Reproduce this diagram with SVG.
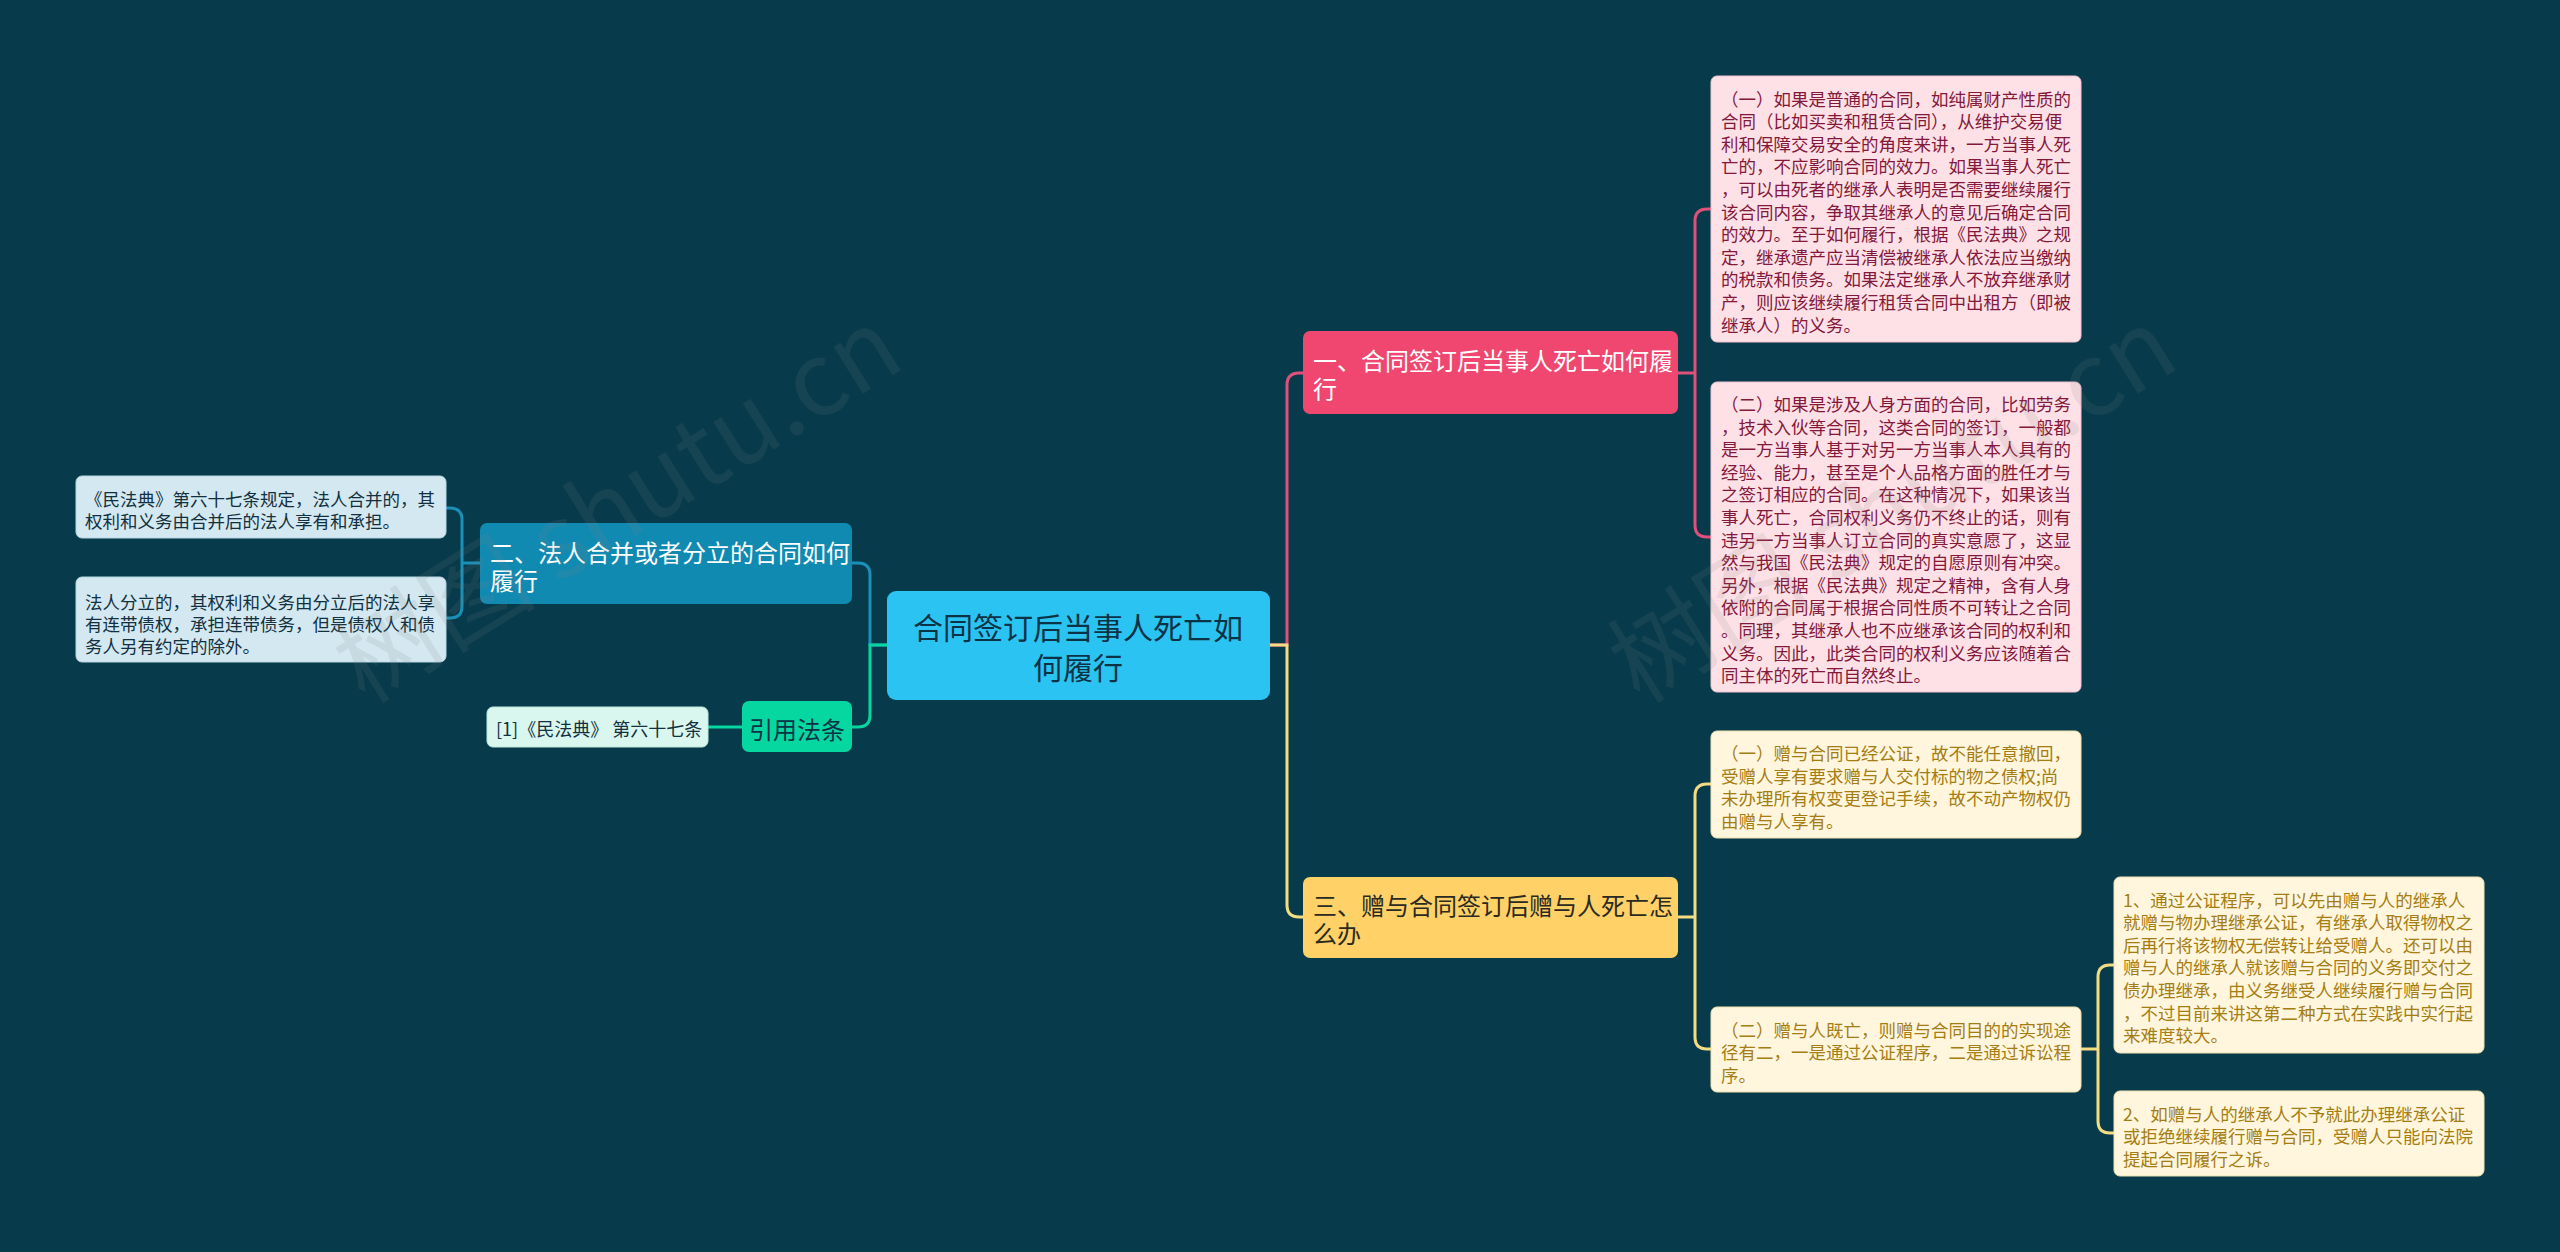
<svg xmlns="http://www.w3.org/2000/svg" width="2560" height="1252" viewBox="0 0 2560 1252">
<style>
text{font-family:"Noto Sans CJK SC","Noto Sans",sans-serif}
.c{fill:none;stroke-width:3;stroke-linecap:round}
.leaf{font-size:17.5px;dominant-baseline:central}
.pk{fill:#fde1e7;stroke:#f3c3cf;stroke-width:1}
.pkt{fill:#84183a}
.yl{fill:#fff6dd;stroke:#f0e2b0;stroke-width:1}
.ylt{fill:#a57d12}
.bl{fill:#d3e8f0;stroke:#b8d6e2;stroke-width:1}
.blt{fill:#12303f}
.br{font-size:24px;dominant-baseline:central}
.wm{font-size:102px;fill:#808080;opacity:0.13}
</style>
<rect width="2560" height="1252" fill="#073b4c"/>
<g id="connectors">
<path class="c" stroke="#e0507a" d="M1270,645 H1287 V385 Q1287,373 1299,373 H1303"/>
<path class="c" stroke="#f3dc82" d="M1270,645 H1287 V905 Q1287,917 1299,917 H1303"/>
<path class="c" stroke="#1a8fb8" d="M887,645 H870 V575 Q870,563 858,563 H852"/>
<path class="c" stroke="#06d6a0" d="M887,645 H870 V715 Q870,727 858,727 H852"/>
<path class="c" stroke="#e0507a" d="M1678,373 H1695 V221 Q1695,209 1707,209 H1711 M1695,373 V525 Q1695,537 1707,537 H1711"/>
<path class="c" stroke="#f3dc82" d="M1678,917 H1695 V796 Q1695,784 1707,784 H1711 M1695,917 V1037 Q1695,1049 1707,1049 H1711"/>
<path class="c" stroke="#f3dc82" d="M2081,1049 H2098 V977 Q2098,965 2110,965 H2114 M2098,1049 V1121 Q2098,1133 2110,1133 H2114"/>
<path class="c" stroke="#1a8fb8" d="M480,563 H462 V520 Q462,508 450,508 H446 M462,563 V606 Q462,618 450,618 H446"/>
<path class="c" stroke="#06d6a0" d="M742,727 H708"/>
</g>
<g id="root">
<rect x="887" y="591" width="383" height="109" rx="9" fill="#2bc4f2"/>
<text x="1078" y="626" font-size="30" text-anchor="middle" dominant-baseline="central" fill="#0b3345">合同签订后当事人死亡如</text>
<text x="1078" y="666" font-size="30" text-anchor="middle" dominant-baseline="central" fill="#0b3345">何履行</text>
</g>
<g id="n1">
<rect x="1303" y="331" width="375" height="83" rx="7" fill="#ef476f"/>
<text class="br" x="1313" y="359" fill="#ffffff">一、合同签订后当事人死亡如何履</text>
<text class="br" x="1313" y="387" fill="#ffffff">行</text>
</g>
<g id="n3">
<rect x="1303" y="877" width="375" height="81" rx="7" fill="#ffd166"/>
<text class="br" x="1313" y="904" fill="#2a2a22">三、赠与合同签订后赠与人死亡怎</text>
<text class="br" x="1313" y="932" fill="#2a2a22">么办</text>
</g>
<g id="n2">
<rect x="480" y="523" width="372" height="81" rx="7" fill="#118ab2"/>
<text class="br" x="490" y="551" fill="#ffffff">二、法人合并或者分立的合同如何</text>
<text class="br" x="490" y="579" fill="#ffffff">履行</text>
</g>
<g id="ref">
<rect x="742" y="701" width="110" height="51" rx="7" fill="#06d6a0"/>
<text class="br" x="797" y="728" text-anchor="middle" fill="#0b3345">引用法条</text>
</g>
<g id="ref-leaf">
<rect x="487" y="707" width="221" height="40" rx="6" fill="#d9f7ee" stroke="#bfe8dc" stroke-width="1"/>
<text x="496" y="728" font-size="18" dominant-baseline="central" fill="#12303f">[1]《民法典》 第六十七条</text>
</g>
<g id="leaf-a">
<rect class="bl" x="76" y="476" width="370" height="62" rx="6"/>
<text class="leaf blt" x="85" y="498">《民法典》第六十七条规定，法人合并的，其</text>
<text class="leaf blt" x="85" y="520">权利和义务由合并后的法人享有和承担。</text>
</g>
<g id="leaf-b">
<rect class="bl" x="76" y="577" width="370" height="85" rx="6"/>
<text class="leaf blt" x="85" y="601">法人分立的，其权利和义务由分立后的法人享</text>
<text class="leaf blt" x="85" y="623">有连带债权，承担连带债务，但是债权人和债</text>
<text class="leaf blt" x="85" y="645">务人另有约定的除外。</text>
</g>
<g id="leaf-p1">
<rect class="pk" x="1711" y="76" width="370" height="266" rx="6"/>
<text class="leaf pkt" x="1721" y="98">（一）如果是普通的合同，如纯属财产性质的</text>
<text class="leaf pkt" x="1721" y="120.6">合同（比如买卖和租赁合同），从维护交易便</text>
<text class="leaf pkt" x="1721" y="143.2">利和保障交易安全的角度来讲，一方当事人死</text>
<text class="leaf pkt" x="1721" y="165.8">亡的，不应影响合同的效力。如果当事人死亡</text>
<text class="leaf pkt" x="1721" y="188.4">，可以由死者的继承人表明是否需要继续履行</text>
<text class="leaf pkt" x="1721" y="211">该合同内容，争取其继承人的意见后确定合同</text>
<text class="leaf pkt" x="1721" y="233.6">的效力。至于如何履行，根据《民法典》之规</text>
<text class="leaf pkt" x="1721" y="256.2">定，继承遗产应当清偿被继承人依法应当缴纳</text>
<text class="leaf pkt" x="1721" y="278.8">的税款和债务。如果法定继承人不放弃继承财</text>
<text class="leaf pkt" x="1721" y="301.4">产，则应该继续履行租赁合同中出租方（即被</text>
<text class="leaf pkt" x="1721" y="324">继承人）的义务。</text>
</g>
<g id="leaf-p2">
<rect class="pk" x="1711" y="382" width="370" height="310" rx="6"/>
<text class="leaf pkt" x="1721" y="403.4">（二）如果是涉及人身方面的合同，比如劳务</text>
<text class="leaf pkt" x="1721" y="426">，技术入伙等合同，这类合同的签订，一般都</text>
<text class="leaf pkt" x="1721" y="448.6">是一方当事人基于对另一方当事人本人具有的</text>
<text class="leaf pkt" x="1721" y="471.2">经验、能力，甚至是个人品格方面的胜任才与</text>
<text class="leaf pkt" x="1721" y="493.8">之签订相应的合同。在这种情况下，如果该当</text>
<text class="leaf pkt" x="1721" y="516.4">事人死亡，合同权利义务仍不终止的话，则有</text>
<text class="leaf pkt" x="1721" y="539">违另一方当事人订立合同的真实意愿了，这显</text>
<text class="leaf pkt" x="1721" y="561.6">然与我国《民法典》规定的自愿原则有冲突。</text>
<text class="leaf pkt" x="1721" y="584.2">另外，根据《民法典》规定之精神，含有人身</text>
<text class="leaf pkt" x="1721" y="606.8">依附的合同属于根据合同性质不可转让之合同</text>
<text class="leaf pkt" x="1721" y="629.4">。同理，其继承人也不应继承该合同的权利和</text>
<text class="leaf pkt" x="1721" y="652">义务。因此，此类合同的权利义务应该随着合</text>
<text class="leaf pkt" x="1721" y="674.6">同主体的死亡而自然终止。</text>
</g>
<g id="leaf-y1">
<rect class="yl" x="1711" y="731" width="370" height="107" rx="6"/>
<text class="leaf ylt" x="1721" y="752.6">（一）赠与合同已经公证，故不能任意撤回，</text>
<text class="leaf ylt" x="1721" y="775.2">受赠人享有要求赠与人交付标的物之债权;尚</text>
<text class="leaf ylt" x="1721" y="797.8">未办理所有权变更登记手续，故不动产物权仍</text>
<text class="leaf ylt" x="1721" y="820.4">由赠与人享有。</text>
</g>
<g id="leaf-y2">
<rect class="yl" x="1711" y="1007" width="370" height="85" rx="6"/>
<text class="leaf ylt" x="1721" y="1029">（二）赠与人既亡，则赠与合同目的的实现途</text>
<text class="leaf ylt" x="1721" y="1051.5">径有二，一是通过公证程序，二是通过诉讼程</text>
<text class="leaf ylt" x="1721" y="1074">序。</text>
</g>
<g id="leaf-y21">
<rect class="yl" x="2114" y="877" width="370" height="176" rx="6"/>
<text class="leaf ylt" x="2123" y="899">1、通过公证程序，可以先由赠与人的继承人</text>
<text class="leaf ylt" x="2123" y="921.6">就赠与物办理继承公证，有继承人取得物权之</text>
<text class="leaf ylt" x="2123" y="944.2">后再行将该物权无偿转让给受赠人。还可以由</text>
<text class="leaf ylt" x="2123" y="966.8">赠与人的继承人就该赠与合同的义务即交付之</text>
<text class="leaf ylt" x="2123" y="989.4">债办理继承，由义务继受人继续履行赠与合同</text>
<text class="leaf ylt" x="2123" y="1012">，不过目前来讲这第二种方式在实践中实行起</text>
<text class="leaf ylt" x="2123" y="1034.6">来难度较大。</text>
</g>
<g id="leaf-y22">
<rect class="yl" x="2114" y="1091" width="370" height="85" rx="6"/>
<text class="leaf ylt" x="2123" y="1113">2、如赠与人的继承人不予就此办理继承公证</text>
<text class="leaf ylt" x="2123" y="1135.5">或拒绝继续履行赠与合同，受赠人只能向法院</text>
<text class="leaf ylt" x="2123" y="1158">提起合同履行之诉。</text>
</g>
<g id="watermark">
<text class="wm" x="365" y="705" transform="rotate(-32 365 705)">树图 shutu.cn</text>
<text class="wm" x="1640" y="705" transform="rotate(-32 1640 705)">树图 shutu.cn</text>
</g>
</svg>
